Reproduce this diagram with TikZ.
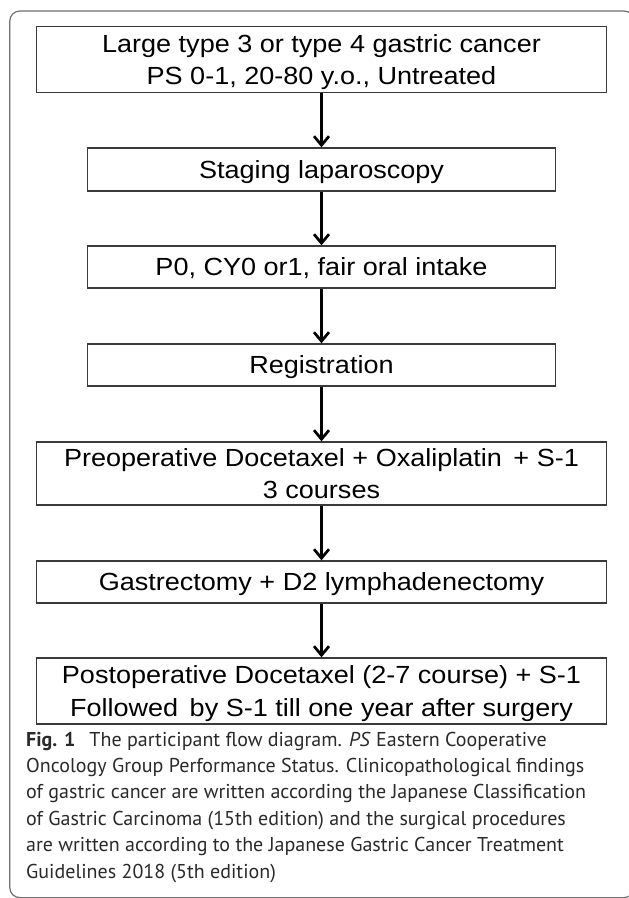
\documentclass[tikz,border=0pt]{standalone}
\usepackage{fontspec}
\setmainfont{Liberation Sans}
\newfontfamily\boxfont{Liberation Sans}[FakeStretch=1.09]
\newfontfamily\capfont{PT Sans}
\usetikzlibrary{arrows.meta}
\newcommand\twoln[2]{\vbox{\halign{\hfil##\hfil\cr#1\cr#2\cr}}}
\newcommand\capl[1]{\hbox{#1}}
\newlength\capw
\definecolor{boxc}{HTML}{3A3A3A}
\definecolor{framec}{HTML}{707070}
\definecolor{capc}{HTML}{2A2A2A}
\AtBeginDocument{%
  \settowidth\capw{\capfont\fontsize{10pt}{12pt}\selectfont Oncology Group Performance Status. Clinicopathological findings}%
  \pgfmathsetmacro\capsz{5580/\capw}}
\begin{document}
\begin{tikzpicture}[x=1pt,y=-1pt,
  box/.style={draw=boxc, line width=1.4pt, inner sep=0pt, text=black,
    font=\boxfont\fontsize{24.8pt}{32.3pt}\selectfont},
  wide/.style={box, minimum width=570pt},
  narrow/.style={box, minimum width=468pt},
  one/.style={minimum height=42pt, text height=17.8pt, text depth=0pt},
  two/.style={text height=50.1pt, text depth=0pt},
  arr/.style={draw=black, line width=2.7pt, -{Straight Barb[length=9pt,width=15pt]}},
  captext/.style={anchor=base west, inner sep=0pt, text=capc}]
\useasboundingbox (0,0) rectangle (629,898);
\fill[white] (0,0) rectangle (629,898);
\begin{scope}
\clip (0,0) rectangle (629,898);
\draw[framec, line width=1.2pt, rounded corners=10pt] (9.8,11) rectangle (634,897.6);
\end{scope}
\node[wide, two, minimum height=66pt] (b1) at (321.5,59.7)
  {\twoln{Large type 3 or type 4 gastric cancer}{PS 0-1, 20-80 y.o., Untreated}};
\node[narrow, one, minimum height=43pt] (b2) at (321.5,169.5) {Staging laparoscopy};
\node[narrow, one] (b3) at (321.5,267) {P0, CY0 or1, fair oral intake};
\node[narrow, one] (b4) at (321.5,365) {Registration};
\node[wide, two, minimum height=63pt] (b5) at (321.5,473.5)
  {\twoln{Preoperative Docetaxel + Oxaliplatin\kern4pt{} + S-1}{3 courses}};
\node[wide, one] (b6) at (321.5,582) {Gastrectomy + D2 lymphadenectomy};
\node[wide, two, minimum height=66pt] (b7) at (321.5,691)
  {\twoln{Postoperative Docetaxel (2-7 course) + S-1}{Followed\kern4pt{} by S-1 till one year after surgery}};
\draw[arr] (b1) -- (b2);
\draw[arr] (b2) -- (b3);
\draw[arr] (b3) -- (b4);
\draw[arr] (b4) -- (b5);
\draw[arr] (b5) -- (b6);
\draw[arr] (b6) -- (b7);
\node[captext, font=\capfont\fontsize{\capsz pt}{26.4pt}\selectfont] (cap) at (26,746)
  {\vtop{%
   \capl{\textbf{Fig. 1}\hspace{14pt}The participant flow diagram. \textit{PS} Eastern Cooperative}%
   \capl{Oncology Group Performance Status. Clinicopathological findings}%
   \capl{of gastric cancer are written according the Japanese Classification}%
   \capl{of Gastric Carcinoma (15th edition) and the surgical procedures}%
   \capl{are written according to the Japanese Gastric Cancer Treatment}%
   \capl{Guidelines 2018 (5th edition)}}};
\end{tikzpicture}
\end{document}
